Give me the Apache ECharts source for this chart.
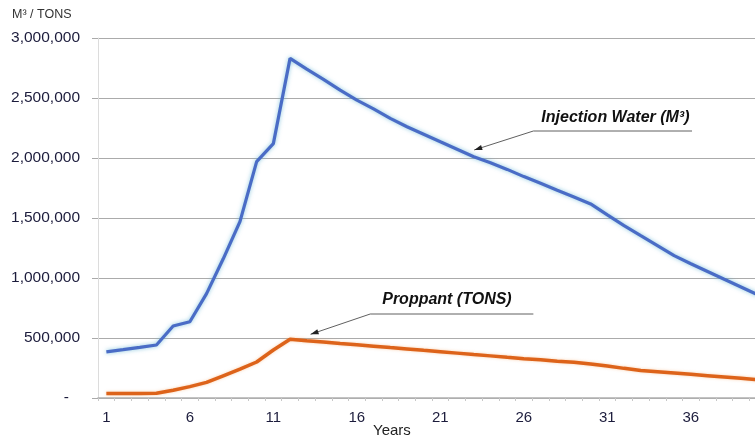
<!DOCTYPE html>
<html>
<head>
<meta charset="utf-8">
<script src="https://cdn.jsdelivr.net/npm/echarts@6/dist/echarts.min.js"></script>
<style>
html,body{margin:0;padding:0;background:#fff;width:755px;height:439px;overflow:hidden}
#c{width:766px;height:439px}
</style>
</head>
<body>
<div id="c"></div>
<script>
// ---- data ----
const years = ['1','2','3','4','5','6','7','8','9','10','11','12','13','14','15','16','17','18','19','20',
               '21','22','23','24','25','26','27','28','29','30','31','32','33','34','35','36','37','38','39','40'];
const injectionWater = [385000, 403000, 422000, 442000, 600000, 635000, 870000, 1160000, 1470000, 1970000,
                        2120000, 2830000, 2740000, 2655000, 2565000, 2482000, 2410000, 2330000, 2260000, 2198000,
                        2135000, 2073000, 2010000, 1960000, 1905000, 1845000, 1789000, 1731000, 1675000, 1617000,
                        1526000, 1437000, 1353000, 1270000, 1186000, 1119000, 1054000, 989000, 925000, 860000];
const proppant = [38000, 38000, 38000, 40000, 65000, 95000, 130000, 185000, 240000, 300000,
                  400000, 490000, 478000, 467000, 455000, 444000, 432000, 420000, 409000, 397000,
                  386000, 374000, 362000, 351000, 339000, 328000, 318000, 307000, 297000, 284000,
                  266000, 247000, 230000, 219000, 208000, 197000, 186000, 175000, 164000, 153000];
const seriesNames = ['Injection Water (M³)', 'Proppant (TONS)'];
const yAxisTitle = 'M³ / TONS';
const xAxisTitle = 'Years';

// ---- chart ----
const FONT = "'Liberation Sans', Arial, sans-serif";
const chart = echarts.init(document.getElementById('c'), null, {renderer: 'canvas'});
chart.setOption({
  animation: false,
  backgroundColor: '#ffffff',
  title: [
    {text: yAxisTitle, left: 12, top: 8, padding: 0,
     textStyle: {fontSize: 12.5, fontWeight: 'normal', color: '#333333', fontFamily: FONT}},
    {text: xAxisTitle, left: 373, top: 423, padding: 0,
     textStyle: {fontSize: 15, fontWeight: 'normal', color: '#222222', fontFamily: FONT}}
  ],
  grid: {left: 98, right: 0, top: 38, bottom: 41, containLabel: false},
  xAxis: {
    type: 'category', data: years, boundaryGap: true,
    axisLine: {lineStyle: {color: '#b0b0b0', width: 1.5}},
    axisTick: {show: true, interval: 0, length: 3, lineStyle: {color: '#c8c8c8'}},
    axisLabel: {interval: 4, margin: 12, fontSize: 15, color: '#1c1c3c', fontFamily: FONT},
    splitLine: {show: false}
  },
  yAxis: {
    type: 'value', min: 0, max: 3000000, interval: 500000,
    axisLine: {show: true, lineStyle: {color: '#dcdcdc'}},
    axisTick: {show: true, length: 6, lineStyle: {color: '#aaaaaa'}},
    axisLabel: {
      margin: 18, fontSize: 15.5, color: '#1c1c3c', fontFamily: FONT,
      formatter: v => v === 0 ? '{z|-}' : v.toLocaleString('en-US'),
      rich: {z: {padding: [0, 11, 0, 0], fontSize: 15.5, color: '#1c1c3c', fontFamily: FONT}}
    },
    splitLine: {lineStyle: {color: '#ababab'}}
  },
  series: [
    {name: seriesNames[0], type: 'line', data: injectionWater, symbol: 'none', z: 3,
     lineStyle: {color: '#4a6cc6', width: 3.2, shadowColor: 'rgba(90,175,210,0.7)', shadowBlur: 4}},
    {name: seriesNames[1], type: 'line', data: proppant, symbol: 'none', z: 3,
     lineStyle: {color: '#dd631a', width: 3.5, shadowColor: 'rgba(245,160,90,0.5)', shadowBlur: 3}}
  ]
});

// ---- callout annotations, anchored in data space ----
function toPx(pt) {
  const yr = pt[0], v = pt[1];
  const i = Math.floor(yr), f = yr - i;
  const a = chart.convertToPixel({gridIndex: 0}, [i - 1, v]);
  const b = chart.convertToPixel({gridIndex: 0}, [i, v]);
  return [a[0] + f * (b[0] - a[0]), a[1]];
}
function callout(label, tip, start, end, dx, dy) {
  const T = toPx(tip), S = toPx(start), E = toPx(end);
  const ddx = T[0] - S[0], ddy = T[1] - S[1];
  const len = Math.sqrt(ddx * ddx + ddy * ddy);
  const ux = ddx / len, uy = ddy / len, nx = -uy, ny = ux;
  const L = 8, W = 2.6;
  return [
    {type: 'polyline', z: 10, shape: {points: [T, S, E]},
     style: {stroke: '#606060', lineWidth: 1, fill: null}},
    {type: 'polygon', z: 11, shape: {points: [T,
      [T[0] - ux * L + nx * W, T[1] - uy * L + ny * W],
      [T[0] - ux * L - nx * W, T[1] - uy * L - ny * W]]},
     style: {fill: '#222222'}},
    {type: 'text', z: 12, style: {x: S[0] + dx, y: S[1] + dy, text: label,
      font: "italic bold 16px 'Liberation Sans', Arial, sans-serif", fill: '#111111',
      align: 'left', verticalAlign: 'middle'}}
  ];
}
chart.setOption({
  graphic: [].concat(
    callout(seriesNames[0], [23.03, 2067000], [26.57, 2225000], [36.07, 2225000], 8, -13.5),
    callout(seriesNames[1], [13.23, 531000], [16.8, 700000], [26.57, 700000], 12, -14.5)
  )
});
</script>
</body>
</html>
